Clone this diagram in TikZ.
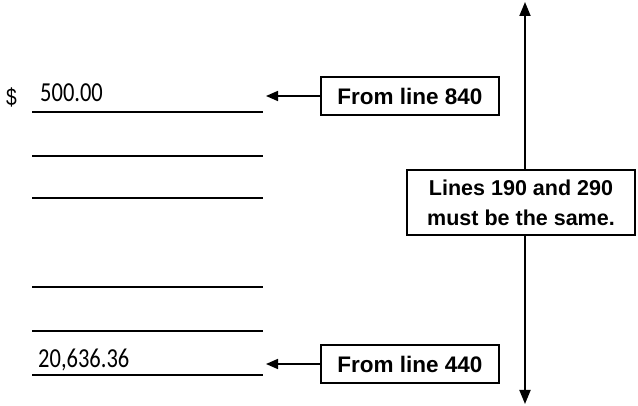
\documentclass[tikz,border=0pt]{standalone}
\usepackage{fontspec}
\setmainfont{Liberation Sans}
\newfontfamily\numfont{Carlito}
\usetikzlibrary{arrows.meta}
\begin{document}
\begin{tikzpicture}[x=1pt,y=-1pt,
  rule/.style={line width=1.8pt},
  conn/.style={line width=1.6pt,-{Triangle[length=12pt,width=10pt]}},
  vconn/.style={line width=1.8pt,-{Triangle[length=14pt,width=11pt]}},
  labelbox/.style={draw,line width=1.2pt,inner sep=0pt,align=center,
    font=\fontsize{22.5}{30}\selectfont\bfseries},
  numtext/.style={inner sep=0pt,anchor=base west,font=\numfont\fontsize{22.5}{26}\selectfont}]
\useasboundingbox (0,0) rectangle (638,406);
% ruled lines
\foreach \yy in {112,156,198,287,331,375}
  \draw[rule] (32,\yy) -- (263,\yy);
% values
\node[inner sep=0pt,anchor=base west,font=\fontsize{24}{26}\selectfont] (dollar) at (6,106) {\scalebox{0.8}[1]{\$}};
\node[numtext] (v500) at (40,102) {\scalebox{1}[1.22]{500.00}};
\node[numtext] (v20) at (38,368) {\scalebox{1}[1.22]{20,636.36}};
% boxes
\node[labelbox,minimum width=178pt,minimum height=38pt] (box1) at (410,96) {From line 840};
\node[labelbox,minimum width=178pt,minimum height=38pt] (box2) at (410,364) {From line 440};
\node[labelbox,minimum width=228pt,minimum height=65pt,font=\fontsize{21.5}{30}\selectfont\bfseries] (box3) at (521,202.5) {Lines 190 and 290\\must be the same.};
% arrow targets
\coordinate (t1) at (266,96);
\coordinate (t2) at (266,364);
\coordinate (vtop) at (525,2);
\coordinate (vbot) at (525,404);
% connectors
\draw[conn] (box1.west) -- (t1);
\draw[conn] (box2.west) -- (t2);
\draw[vconn] (box3.north -| vtop) -- (vtop);
\draw[vconn] (box3.south -| vbot) -- (vbot);
\end{tikzpicture}
\end{document}
